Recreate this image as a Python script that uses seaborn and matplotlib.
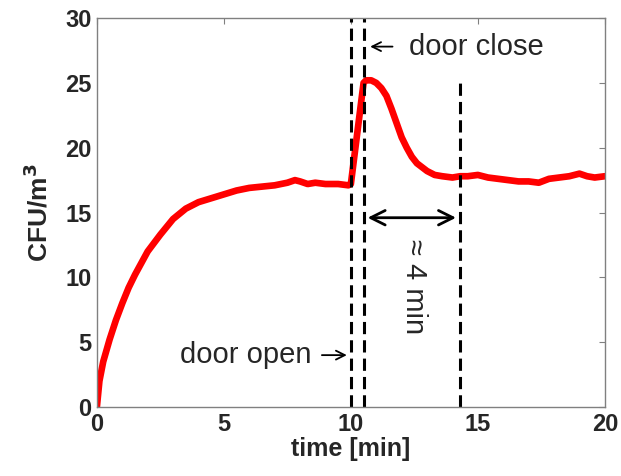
import numpy as np
import pandas as pd
import matplotlib
matplotlib.use("Agg")
import matplotlib.pyplot as plt
import seaborn as sns

# values
time_min = [0, 0.1, 0.25, 0.5, 0.75, 1.0, 1.25, 1.5, 1.75, 2.0, 2.5, 3.0, 3.5, 4.0,
            4.5, 5.0, 5.5, 6.0, 6.5, 7.0, 7.5, 7.8, 8.0, 8.3, 8.6, 9.0, 9.5, 9.9,
            10.0, 10.5, 10.6, 10.8, 11.0, 11.2, 11.4, 11.6, 11.8, 12.0, 12.2, 12.4,
            12.6, 12.8, 13.0, 13.3, 13.6, 14.0, 14.3, 14.6, 15.0, 15.4, 15.8, 16.2,
            16.6, 17.0, 17.4, 17.8, 18.2, 18.6, 19.0, 19.3, 19.6, 20.0]
cfu = [0, 2.0, 3.5, 5.2, 6.7, 8.0, 9.2, 10.2, 11.1, 12.0, 13.3, 14.5, 15.3, 15.8,
       16.1, 16.4, 16.7, 16.9, 17.0, 17.1, 17.3, 17.5, 17.4, 17.2, 17.3, 17.2, 17.2, 17.1,
       17.2, 25.0, 25.2, 25.2, 25.0, 24.6, 24.0, 23.0, 21.9, 20.8, 20.0, 19.3,
       18.8, 18.5, 18.2, 17.9, 17.8, 17.7, 17.8, 17.8, 17.9, 17.7, 17.6, 17.5,
       17.4, 17.4, 17.3, 17.6, 17.7, 17.8, 18.0, 17.8, 17.7, 17.8]

door_open = 10.0
door_close = 10.5
settled = 14.3
settled_top = 25

df = pd.DataFrame({"time": time_min, "cfu": cfu})

sns.set_style("white")
plt.rcParams['font.family'] = ['Liberation Sans', 'DejaVu Sans']

fig = plt.figure(figsize=(6.21, 4.76), dpi=100)
ax = fig.add_axes([0.156, 0.145, 0.818, 0.817])

sns.lineplot(data=df, x="time", y="cfu", estimator=None, color="#ff0000",
             lw=4.8, ax=ax)

dash = dict(color="black", ls="--", lw=2.2, dashes=(4, 2))
ax.axvline(door_open, **dash)
ax.axvline(door_close, **dash)
ax.plot([settled, settled], [0, settled_top], **dash)

ax.set_xlim(0, 20)
ax.set_ylim(0, 30)
ax.set_xticks([0, 5, 10, 15, 20])
ax.set_yticks([0, 5, 10, 15, 20, 25, 30])
for s in ax.spines.values():
    s.set_color("#808080")
    s.set_linewidth(1)
ax.tick_params(direction="in", length=4, color="#808080", top=True, right=True,
               labelsize=17, pad=4)
for lab in ax.get_xticklabels() + ax.get_yticklabels():
    lab.set_fontweight("bold")

ax.set_xlabel("time [min]", fontsize=18, fontweight="bold", labelpad=1)
ax.set_ylabel("CFU/m$^\\mathbf{3}$", fontsize=19, fontweight="bold", labelpad=9)

# annotations
small_arrow = dict(arrowstyle="->", color="black", lw=1.3, mutation_scale=16)
ax.annotate("", xy=(10.65, 27.8), xytext=(11.75, 27.8), arrowprops=small_arrow)
ax.text(12.3, 27.8, "door close", fontsize=21, va="center", ha="left")
ax.annotate("", xy=(9.95, 4.0), xytext=(8.75, 4.0), arrowprops=small_arrow)
ax.text(8.45, 4.0, "door open", fontsize=21, va="center", ha="right")
ax.annotate("", xy=(door_close + 0.05, 14.6), xytext=(settled - 0.05, 14.6),
            arrowprops=dict(arrowstyle="<->", color="black", lw=2,
                            mutation_scale=26))
ax.text(12.5, 9.3, "\u2248 4 min", fontsize=21, rotation=270, va="center",
        ha="center")

fig.savefig("out.png", dpi=100)
